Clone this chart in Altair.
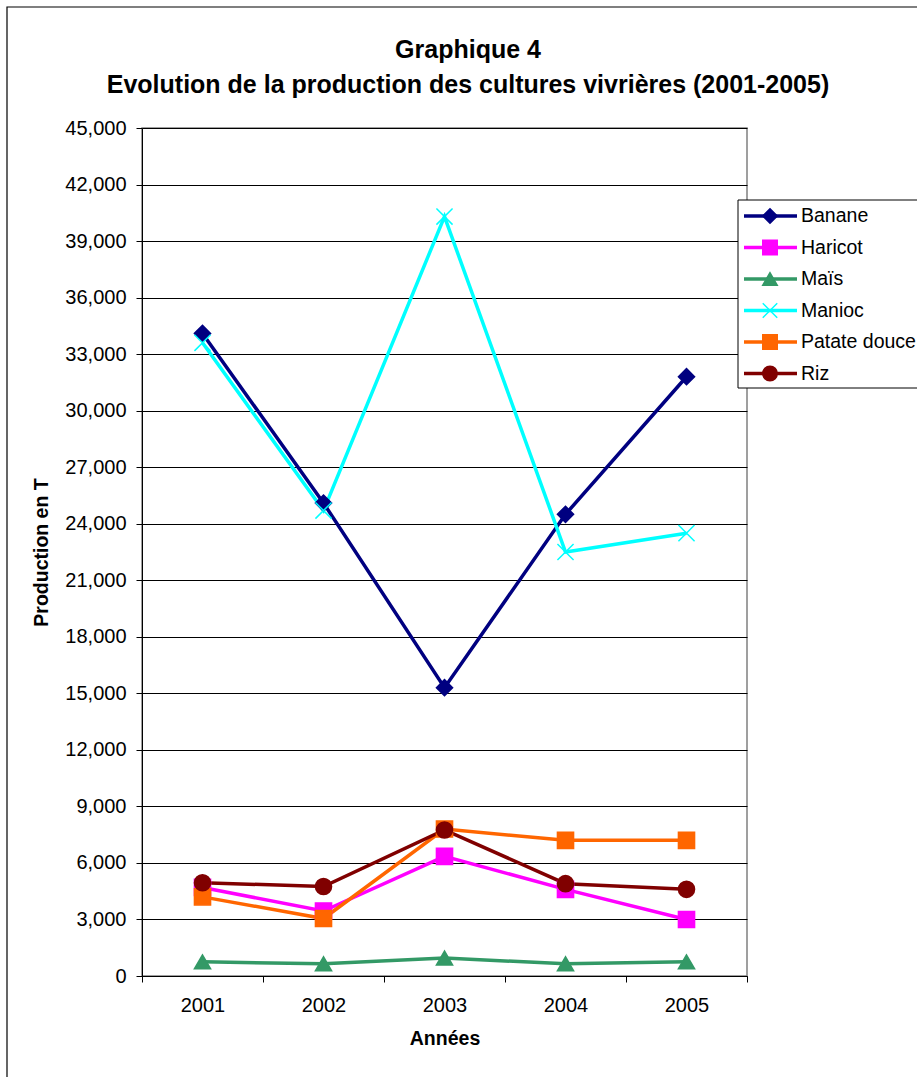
import altair as alt
import pandas as pd

# ---- data ----
years = ["2001", "2002", "2003", "2004", "2005"]
series = ["Banane", "Haricot", "Maïs", "Manioc", "Patate douce", "Riz"]
banane = [34100, 25100, 15300, 24500, 31800]
haricot = [4700, 3450, 6350, 4600, 3000]
mais = [750, 650, 950, 650, 750]
manioc = [33600, 24700, 40300, 22500, 23500]
patate = [4200, 3050, 7800, 7200, 7200]
riz = [4950, 4750, 7750, 4900, 4600]
y_ticks = list(range(0, 45001, 3000))
title_lines = ["Graphique 4", "Evolution de la production des cultures vivrières (2001-2005)"]

colors = ["#000080", "#FF00FF", "#339966", "#00FFFF", "#FF6600", "#800000"]
x_path = "M-1,-1L1,1M-1,1L1,-1"
shapes = ["diamond", "square", "triangle-up", x_path, "square", "circle"]

rows = []
for name, vals in zip(series, [banane, haricot, mais, manioc, patate, riz]):
    for yr, v in zip(years, vals):
        rows.append({"Année": yr, "Série": name, "Production": v})
df = pd.DataFrame(rows)
leg = pd.DataFrame({"Série": series})
one = pd.DataFrame({"k": [0]})
titles = pd.DataFrame({"t": title_lines, "i": [0, 1]})

FONT = "Liberation Sans"
color_scale = alt.Scale(domain=series, range=colors)
shape_scale = alt.Scale(domain=series, range=shapes)

x_enc = alt.X(
    "Année:O",
    scale=alt.Scale(type="band", paddingInner=0, paddingOuter=0),
    bandPosition=0.5,
    axis=alt.Axis(
        title="Années", tickBand="extent", labelAngle=0, grid=False,
        labelFontSize=20, labelFont=FONT, labelColor="black", labelPadding=13,
        tickSize=6, tickColor="black", domainColor="black",
        titleFontSize=19.5, titleFont=FONT, titleFontWeight="bold", titlePadding=14,
        titleColor="black",
    ),
)
y_enc = alt.Y(
    "Production:Q",
    scale=alt.Scale(domain=[0, 45000], nice=False),
    axis=alt.Axis(
        title="Production en T", values=y_ticks, format=",d",
        grid=True, gridColor="black", gridWidth=1, gridOpacity=1,
        labelFontSize=20, labelFont=FONT, labelColor="black", labelPadding=10,
        tickSize=6, tickColor="black", domainColor="black",
        titleFontSize=19.5, titleFont=FONT, titleFontWeight="bold", titlePadding=13,
        titleColor="black",
    ),
)
col = alt.Color("Série:N", scale=color_scale, legend=None)
stk = alt.Stroke("Série:N", scale=color_scale, legend=None)
shp = alt.Shape("Série:N", scale=shape_scale, legend=None)

border = alt.Chart(one).mark_rect(fillOpacity=0, stroke="black", strokeWidth=1.2).encode(
    x=alt.value(-135), x2=alt.value(800), y=alt.value(-121), y2=alt.value(960)
)

title_txt = alt.Chart(titles).mark_text(
    align="center", baseline="alphabetic", fontSize=25, font=FONT, fontWeight="bold", color="black"
).encode(
    x=alt.value(326),
    y=alt.Y("i:O", scale=alt.Scale(type="point", domain=[0, 1], range=[-70, -35], padding=0), axis=None),
    text="t:N",
)

lines = alt.Chart(df).mark_line(strokeWidth=3.5).encode(x=x_enc, y=y_enc, color=col)
points = alt.Chart(df).mark_point(filled=True, size=260, strokeWidth=1.5, opacity=1).encode(
    x=x_enc, y=y_enc, color=col, stroke=stk, shape=shp
)
main = alt.layer(lines, points)

leg_y = alt.Y("Série:N", scale=alt.Scale(type="point", domain=series, range=[88, 245.5], padding=0), axis=None)
leg_box = alt.Chart(one).mark_rect(fill="white", stroke="black", strokeWidth=1).encode(
    x=alt.value(596), x2=alt.value(790), y=alt.value(72), y2=alt.value(260)
)
leg_rule = alt.Chart(leg).mark_rule(strokeWidth=3.5).encode(
    x=alt.value(602), x2=alt.value(655), y=leg_y, color=col
)
leg_pts = alt.Chart(leg).mark_point(filled=True, size=210, strokeWidth=1.5, opacity=1).encode(
    x=alt.value(628), y=leg_y, color=col, stroke=stk, shape=shp
)
leg_txt = alt.Chart(leg).mark_text(align="left", baseline="middle", fontSize=19.5, font=FONT, color="black").encode(
    x=alt.value(659), y=leg_y, text="Série:N"
)
legend = alt.layer(leg_box, leg_rule, leg_pts, leg_txt)

chart = alt.layer(border, title_txt, main, legend).resolve_scale(y="independent").properties(
    width=605, height=848,
    padding={"left": 142, "top": 128, "right": 170, "bottom": 101},
    autosize=alt.AutoSizeParams(type="none"),
    background="white",
).configure_view(stroke="#808080", strokeWidth=1.5)

chart.save("out.html", embed_options={"renderer": "svg", "actions": False})
